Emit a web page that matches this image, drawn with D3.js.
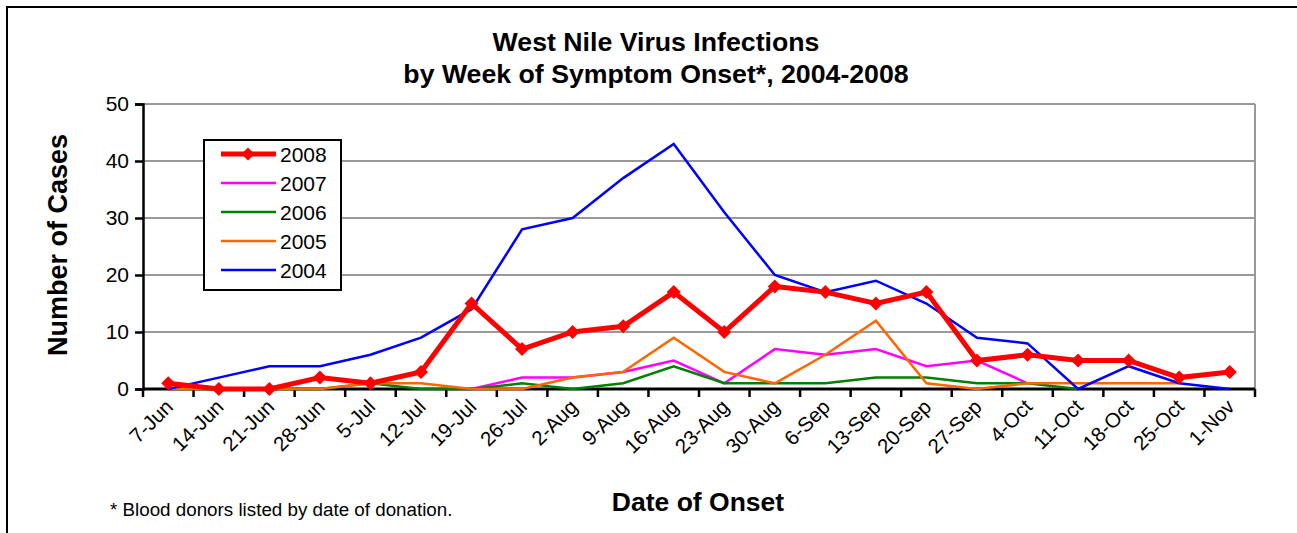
<!DOCTYPE html>
<html>
<head>
<meta charset="utf-8">
<script src="https://cdn.jsdelivr.net/npm/d3@7"></script>
<style>
  html, body { margin: 0; padding: 0; background: #fff; }
  svg text { font-family: "Liberation Sans", Arial, sans-serif; }
</style>
</head>
<body>
<svg id="chart" width="1297" height="533"></svg>
<script>
const categories = ["7-Jun","14-Jun","21-Jun","28-Jun","5-Jul","12-Jul","19-Jul","26-Jul","2-Aug","9-Aug","16-Aug","23-Aug","30-Aug","6-Sep","13-Sep","20-Sep","27-Sep","4-Oct","11-Oct","18-Oct","25-Oct","1-Nov"];
const cases2008 = [1,0,0,2,1,3,15,7,10,11,17,10,18,17,15,17,5,6,5,5,2,3];
const cases2007 = [null,null,null,null,null,null,0,2,2,3,5,1,7,6,7,4,5,1,null,null,null,null];
const cases2006 = [0,0,0,0,1,0,0,1,0,1,4,1,1,1,2,2,1,1,0,null,null,null];
const cases2005 = [0,0,0,0,1,1,0,0,2,3,9,3,1,6,12,1,0,1,1,1,1,null];
const cases2004 = [0,2,4,4,6,9,14,28,30,37,43,31,20,17,19,15,9,8,0,4,1,0];
const yTicks = [0,10,20,30,40,50];
const legendOrder = ["2008","2007","2006","2005","2004"];

const series = [
  {name:"2007", values:cases2007, color:"#FF00FF", width:2.5},
  {name:"2006", values:cases2006, color:"#008000", width:2.5},
  {name:"2005", values:cases2005, color:"#FF6600", width:2.5},
  {name:"2004", values:cases2004, color:"#0000FF", width:2.5},
  {name:"2008", values:cases2008, color:"#FF0000", width:5, marker:true}
];

const svg = d3.select("#chart");
const plot = {left:143, right:1255, top:104, bottom:389};

const x = d3.scaleBand().domain(categories).range([plot.left, plot.right]).padding(0);
const y = d3.scaleLinear().domain([0,50]).range([plot.bottom, plot.top]);
const cx = c => x(c) + x.bandwidth()/2;

// outer frame (left + top)
svg.append("path").attr("d","M7,533 L7,7 L1297,7").attr("fill","none").attr("stroke","#000").attr("stroke-width",2);

// gridlines
svg.append("g").selectAll("line").data(yTicks.filter(t=>t>0)).join("line")
  .attr("x1",plot.left).attr("x2",plot.right)
  .attr("y1",d=>y(d)).attr("y2",d=>y(d))
  .attr("stroke","#999").attr("stroke-width",2);
// plot right border
svg.append("line").attr("x1",plot.right).attr("x2",plot.right).attr("y1",plot.top).attr("y2",plot.bottom)
  .attr("stroke","#999").attr("stroke-width",2);

// y axis
const yAxis = svg.append("g").attr("transform",`translate(${plot.left},0)`)
  .call(d3.axisLeft(y).tickValues(yTicks).tickSize(8).tickPadding(6));
yAxis.select(".domain").attr("stroke","#000").attr("stroke-width",2.5);
yAxis.selectAll(".tick line").attr("stroke","#000").attr("stroke-width",2.5);
yAxis.selectAll(".tick text").attr("font-size",21).attr("fill","#000")
  .style("font-family","'Liberation Sans', Arial, sans-serif");

// x axis line and ticks at category boundaries
const xg = svg.append("g");
xg.append("line").attr("x1",plot.left).attr("x2",plot.right).attr("y1",plot.bottom).attr("y2",plot.bottom)
  .attr("stroke","#000").attr("stroke-width",3);
const bounds = categories.map(c=>x(c)).concat([plot.right]);
xg.selectAll("line.tk").data(bounds).join("line").attr("class","tk")
  .attr("x1",d=>d).attr("x2",d=>d).attr("y1",plot.bottom).attr("y2",plot.bottom+8)
  .attr("stroke","#000").attr("stroke-width",2.5);
xg.selectAll("text").data(categories).join("text")
  .attr("transform",d=>`translate(${cx(d)+1},${plot.bottom+14}) rotate(-45)`)
  .attr("text-anchor","end").attr("dy","0.35em")
  .attr("font-size",20.5).attr("fill","#000").text(d=>d);

// lines
const line = d3.line().defined(d=>d.v!=null).x(d=>cx(d.c)).y(d=>y(d.v));
series.forEach(s=>{
  const pts = categories.map((c,i)=>({c, v:s.values[i]}));
  svg.append("path").datum(pts).attr("d",line)
    .attr("fill","none").attr("stroke",s.color).attr("stroke-width",s.width)
    .attr("stroke-linejoin","miter");
  if (s.marker) {
    svg.append("g").selectAll("path").data(pts.filter(p=>p.v!=null)).join("path")
      .attr("d","M0,-7L7,0L0,7L-7,0Z")
      .attr("transform",d=>`translate(${cx(d.c)},${y(d.v)})`)
      .attr("fill",s.color);
  }
});

// legend
const lg = svg.append("g");
lg.append("rect").attr("x",204).attr("y",140).attr("width",137).attr("height",150)
  .attr("fill","#fff").attr("stroke","#000").attr("stroke-width",2);
const byName = Object.fromEntries(series.map(s=>[s.name,s]));
legendOrder.forEach((n,i)=>{
  const s = byName[n];
  const yy = 154 + i*29;
  lg.append("line").attr("x1",221).attr("x2",276).attr("y1",yy).attr("y2",yy)
    .attr("stroke",s.color).attr("stroke-width",s.width);
  if (s.marker) lg.append("path").attr("d","M0,-6.5L6.5,0L0,6.5L-6.5,0Z")
    .attr("transform",`translate(248,${yy})`).attr("fill",s.color);
  lg.append("text").attr("x",280).attr("y",yy).attr("dy","0.36em")
    .attr("font-size",21).attr("fill","#000").text(n);
});

// titles
svg.append("text").attr("x",656).attr("y",51).attr("text-anchor","middle")
  .attr("font-size",26.7).attr("font-weight","bold").text("West Nile Virus Infections");
svg.append("text").attr("x",656).attr("y",83).attr("text-anchor","middle")
  .attr("font-size",26.7).attr("font-weight","bold").text("by Week of Symptom Onset*, 2004-2008");
svg.append("text").attr("transform","translate(67,245) rotate(-90)").attr("text-anchor","middle")
  .attr("font-size",27).attr("font-weight","bold").text("Number of Cases");
svg.append("text").attr("x",698).attr("y",511).attr("text-anchor","middle")
  .attr("font-size",26.5).attr("font-weight","bold").text("Date of Onset");
svg.append("text").attr("x",110).attr("y",516)
  .attr("font-size",18.8).text("* Blood donors listed by date of donation.");
</script>
</body>
</html>
